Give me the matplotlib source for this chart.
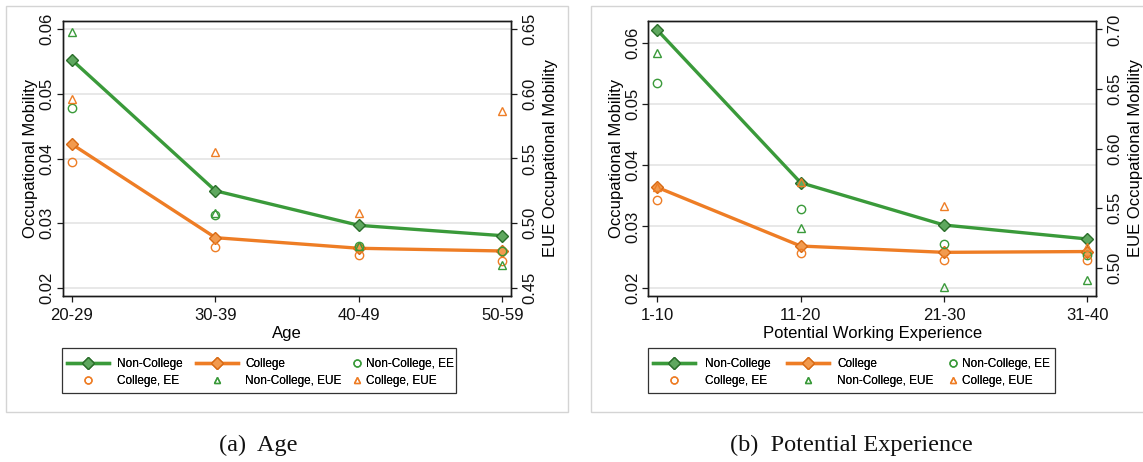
import numpy as np
import matplotlib
matplotlib.use("Agg")
import matplotlib.pyplot as plt
from matplotlib.patches import Rectangle
from matplotlib.lines import Line2D

plt.rcParams['font.family'] = ['Liberation Sans', 'DejaVu Sans']

# ---- data ---------------------------------------------------------------
age_groups = ["20-29", "30-39", "40-49", "50-59"]
age_noncollege = [0.05525, 0.0350, 0.02965, 0.02805]
age_college = [0.0422, 0.02774, 0.0261, 0.02568]
age_noncollege_ee = [0.04787, 0.0312, 0.0265, 0.0257]
age_college_ee = [0.0395, 0.02635, 0.02506, 0.0242]
age_noncollege_eue = [0.6477, 0.5081, 0.4825, 0.4675]
age_college_eue = [0.5958, 0.5553, 0.5081, 0.5868]

exp_groups = ["1-10", "11-20", "21-30", "31-40"]
exp_noncollege = [0.06207, 0.03714, 0.03023, 0.02795]
exp_college = [0.03638, 0.0268, 0.02577, 0.0259]
exp_noncollege_ee = [0.05347, 0.03279, 0.02718, 0.02533]
exp_college_ee = [0.03426, 0.0256, 0.02452, 0.0246]
exp_noncollege_eue = [0.6804, 0.5336, 0.4841, 0.4897]
exp_college_eue = [0.5674, 0.5722, 0.5520, 0.5176]

GREEN = "#3a9a3a"
GREEN_FILL = "#5fa85f"
GREEN_EDGE = "#2a6e2a"
ORANGE = "#ee7d25"
ORANGE_FILL = "#f29a4e"
ORANGE_EDGE = "#d86a14"

W, H = 1143, 462
fig = plt.figure(figsize=(W / 100, H / 100), dpi=100)


def fx(px):
    return px / W


def fy(py):
    return 1 - py / H


def panel(left_px, right_px, groups, nc, c, nc_ee, c_ee, nc_eue, c_eue,
          ylim, yticks, ylim2, yticks2, xlabel):
    top_px, bot_px = 20.7, 296
    ax = fig.add_axes([fx(left_px), fy(bot_px), fx(right_px - left_px),
                       (bot_px - top_px) / H])
    ax2 = ax.twinx()
    x = np.arange(len(groups))

    ax.grid(axis='y', color='#e4e4e4', lw=1.2, zorder=0)
    ax.set_axisbelow(True)

    ax.plot(x, nc, color=GREEN, lw=2.4, marker='D', ms=6.5,
            mfc=GREEN_FILL, mec=GREEN_EDGE, mew=1.0, zorder=4)
    ax.plot(x, c, color=ORANGE, lw=2.4, marker='D', ms=6.5,
            mfc=ORANGE_FILL, mec=ORANGE_EDGE, mew=1.0, zorder=4)
    ax.plot(x, nc_ee, ls='none', marker='o', ms=6, mfc='none',
            mec=GREEN, mew=1.0, zorder=5)
    ax.plot(x, c_ee, ls='none', marker='o', ms=6, mfc='none',
            mec=ORANGE, mew=1.0, zorder=5)
    ax2.plot(x, nc_eue, ls='none', marker='^', ms=6, mfc='none',
             mec=GREEN, mew=1.0, zorder=5)
    ax2.plot(x, c_eue, ls='none', marker='^', ms=6, mfc='none',
             mec=ORANGE, mew=1.0, zorder=5)

    ax.set_xlim(-0.063, len(groups) - 1 + 0.06)
    ax.set_xticks(x, groups)
    ax.set_ylim(*ylim)
    ax.set_yticks(yticks, [f"{v:.2f}" for v in yticks])
    ax2.set_ylim(*ylim2)
    ax2.set_yticks(yticks2, [f"{v:.2f}" for v in yticks2])

    for a in (ax, ax2):
        for s in a.spines.values():
            s.set_color('#1a1a1a')
            s.set_linewidth(1.0)
        a.tick_params(length=4, width=0.9, color='#1a1a1a', labelsize=12,
                      labelcolor='#111111')
    ax.tick_params(axis='x', pad=5)
    ax.tick_params(axis='y', pad=2)
    ax2.tick_params(axis='y', pad=4)
    for lab in ax.get_yticklabels():
        lab.set_rotation(90)
        lab.set_va('center')
    for lab in ax2.get_yticklabels():
        lab.set_rotation(90)
        lab.set_va('center')

    ax.set_ylabel("Occupational Mobility", fontsize=12, labelpad=1)
    ax2.set_ylabel("EUE Occupational Mobility", fontsize=12, labelpad=4)
    ax.set_xlabel(xlabel, fontsize=12, labelpad=2)
    return ax


panel(63, 511, age_groups, age_noncollege, age_college, age_noncollege_ee,
      age_college_ee, age_noncollege_eue, age_college_eue,
      (0.01871, 0.06134), [0.02, 0.03, 0.04, 0.05, 0.06],
      (0.4435, 0.6567), [0.45, 0.50, 0.55, 0.60, 0.65], "Age")

panel(648.3, 1096, exp_groups, exp_noncollege, exp_college, exp_noncollege_ee,
      exp_college_ee, exp_noncollege_eue, exp_college_eue,
      (0.01864, 0.0636), [0.02, 0.03, 0.04, 0.05, 0.06],
      (0.4762, 0.7073), [0.50, 0.55, 0.60, 0.65, 0.70],
      "Potential Working Experience")

# ---- legends ------------------------------------------------------------
LEG_FS = 8.5
em = LEG_FS * 100 / 72


def line_handle(color, fill, edge):
    return Line2D([], [], color=color, lw=2.4, marker='D', ms=6,
                  mfc=fill, mec=edge, mew=1.0)


def point_handle(marker, color):
    return Line2D([], [], ls='none', marker=marker, ms=5, mfc='none',
                  mec=color, mew=1.0)


def legend_column(handles, labels, x_px, hlen_px, text_px):
    leg = fig.legend(handles, labels, loc='center left',
                     bbox_to_anchor=(fx(x_px), fy(372.5)),
                     frameon=False, fontsize=LEG_FS, borderpad=0,
                     borderaxespad=0, handlelength=hlen_px / em,
                     handletextpad=(text_px - x_px - hlen_px) / em,
                     labelspacing=0.45, handleheight=0.7)
    fig.add_artist(leg)


def legend_block(box, cols):
    x0, x1 = box
    fig.add_artist(Rectangle((fx(x0), fy(393)), fx(x1 - x0), (393 - 348) / H,
                             transform=fig.transFigure, fill=False,
                             edgecolor='#333333', lw=0.9))
    (c1h, c1t), (c2h, c2t), (c3m, c3t) = cols
    legend_column([line_handle(GREEN, GREEN_FILL, GREEN_EDGE),
                   point_handle('o', ORANGE)],
                  ["Non-College", "College, EE"], c1h, 42, c1t)
    legend_column([line_handle(ORANGE, ORANGE_FILL, ORANGE_EDGE),
                   point_handle('^', GREEN)],
                  ["College", "Non-College, EUE"], c2h, 42, c2t)
    legend_column([point_handle('o', GREEN), point_handle('^', ORANGE)],
                  ["Non-College, EE", "College, EUE"], c3m - 5, 10, c3t)


legend_block((62, 456), [(67, 117), (196, 245), (357, 366)])
legend_block((648, 1055), [(653, 705), (787, 837), (953, 962)])

# ---- panel frames and captions -----------------------------------------
for (x0, x1) in [(6, 568), (591, 1150)]:
    fig.add_artist(Rectangle((fx(x0), fy(412)), fx(x1 - x0), (412 - 6) / H,
                             transform=fig.transFigure, fill=False,
                             edgecolor='#d4d4d4', lw=1.0))

fig.text(fx(258), fy(445), "(a)  Age", ha='center', va='center',
         fontsize=17.5, family='Liberation Serif', color='#111111')
fig.text(fx(851), fy(445), "(b)  Potential Experience", ha='center',
         va='center', fontsize=17.5, family='Liberation Serif',
         color='#111111')

fig.savefig("out.png", dpi=100)
